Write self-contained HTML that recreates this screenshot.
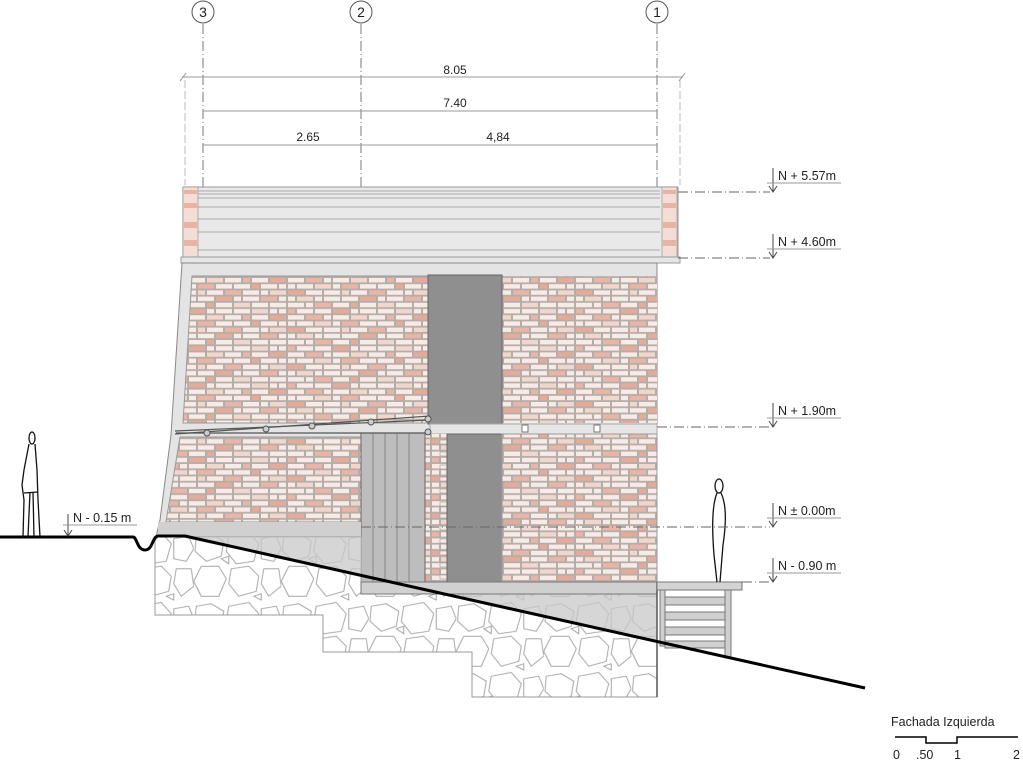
<!DOCTYPE html>
<html><head><meta charset="utf-8"><style>html,body{margin:0;padding:0;background:#fff}svg{display:block}text{font-family:"Liberation Sans",sans-serif;fill:#222}</style></head>
<body>
<svg width="1023" height="763" viewBox="0 0 1023 763" xmlns="http://www.w3.org/2000/svg">
<defs>
<pattern id="brick" x="0" y="277" width="144" height="37.2" patternUnits="userSpaceOnUse">
<rect width="144" height="37.2" fill="#b5adaa"/>
<g fill="#f8ebe5">
<rect x="0" y="1" width="16" height="4.4"/><rect x="18" y="1" width="16" height="4.4" fill="#e8b5a6"/><rect x="36" y="1" width="7" height="4.4"/><rect x="45" y="1" width="16" height="4.4"/><rect x="63" y="1" width="16" height="4.4" fill="#f1d6cc"/><rect x="81" y="1" width="16" height="4.4"/><rect x="99" y="1" width="7" height="4.4" fill="#e8b5a6"/><rect x="108" y="1" width="16" height="4.4"/><rect x="126" y="1" width="16" height="4.4" fill="#e4ab9b"/>
<rect x="0" y="7.2" width="7" height="4.4"/><rect x="9" y="7.2" width="16" height="4.4"/><rect x="27" y="7.2" width="16" height="4.4" fill="#f1d6cc"/><rect x="45" y="7.2" width="7" height="4.4"/><rect x="54" y="7.2" width="16" height="4.4" fill="#e8b5a6"/><rect x="72" y="7.2" width="16" height="4.4"/><rect x="90" y="7.2" width="16" height="4.4"/><rect x="108" y="7.2" width="7" height="4.4" fill="#e4ab9b"/><rect x="117" y="7.2" width="16" height="4.4"/><rect x="135" y="7.2" width="7" height="4.4"/>
<rect x="0" y="13.4" width="16" height="4.4" fill="#e4ab9b"/><rect x="18" y="13.4" width="16" height="4.4"/><rect x="36" y="13.4" width="16" height="4.4"/><rect x="54" y="13.4" width="7" height="4.4" fill="#f1d6cc"/><rect x="63" y="13.4" width="16" height="4.4"/><rect x="81" y="13.4" width="16" height="4.4" fill="#e8b5a6"/><rect x="99" y="13.4" width="16" height="4.4"/><rect x="117" y="13.4" width="7" height="4.4"/><rect x="126" y="13.4" width="16" height="4.4" fill="#f1d6cc"/>
<rect x="0" y="19.6" width="7" height="4.4"/><rect x="9" y="19.6" width="16" height="4.4" fill="#f1d6cc"/><rect x="27" y="19.6" width="7" height="4.4"/><rect x="36" y="19.6" width="16" height="4.4"/><rect x="54" y="19.6" width="16" height="4.4"/><rect x="72" y="19.6" width="16" height="4.4" fill="#e4ab9b"/><rect x="90" y="19.6" width="7" height="4.4"/><rect x="99" y="19.6" width="16" height="4.4"/><rect x="117" y="19.6" width="16" height="4.4" fill="#e8b5a6"/><rect x="135" y="19.6" width="7" height="4.4"/>
<rect x="0" y="25.8" width="16" height="4.4"/><rect x="18" y="25.8" width="7" height="4.4"/><rect x="27" y="25.8" width="16" height="4.4" fill="#e8b5a6"/><rect x="45" y="25.8" width="16" height="4.4"/><rect x="63" y="25.8" width="7" height="4.4" fill="#e4ab9b"/><rect x="72" y="25.8" width="16" height="4.4"/><rect x="90" y="25.8" width="16" height="4.4" fill="#f1d6cc"/><rect x="108" y="25.8" width="16" height="4.4"/><rect x="126" y="25.8" width="16" height="4.4"/>
<rect x="0" y="32" width="7" height="4.4" fill="#e8b5a6"/><rect x="9" y="32" width="16" height="4.4"/><rect x="27" y="32" width="16" height="4.4"/><rect x="45" y="32" width="16" height="4.4" fill="#e4ab9b"/><rect x="63" y="32" width="7" height="4.4"/><rect x="72" y="32" width="16" height="4.4"/><rect x="90" y="32" width="16" height="4.4"/><rect x="108" y="32" width="16" height="4.4" fill="#f1d6cc"/><rect x="126" y="32" width="7" height="4.4"/><rect x="135" y="32" width="7" height="4.4"/>
</g>
</pattern>
<pattern id="stone" x="155" y="537" width="70" height="56" patternUnits="userSpaceOnUse" patternTransform="scale(1.25)">
<g fill="none" stroke="#9a9a9a" stroke-width="0.7">
<path d="M2,4 L14,2 L24,8 L22,20 L10,24 L1,16 Z"/>
<path d="M28,4 L44,1 L52,10 L48,24 L34,26 L26,16 Z"/>
<path d="M54,6 L66,4 L70,14 L64,24 L54,22 Z"/>
<path d="M6,28 L20,28 L26,38 L20,52 L6,52 L0,40 Z"/>
<path d="M30,30 L44,28 L52,36 L50,48 L36,52 L28,42 Z"/>
<path d="M56,30 L68,30 L70,44 L60,52 L54,42 Z"/>
<path d="M22,22 L28,20 L28,26 Z"/>
<path d="M48,52 L54,50 L54,55 Z"/>
</g>
</pattern>
</defs>

<g stroke="#777" stroke-width="1" stroke-dasharray="10,3,1,3" fill="none">
<line x1="203" y1="24" x2="203" y2="540"/>
<line x1="361" y1="24" x2="361" y2="540"/>
<line x1="657" y1="24" x2="657" y2="582"/>
</g>
<g stroke="#bbb" stroke-width="1" stroke-dasharray="8,3" fill="none">
<line x1="185" y1="80" x2="185" y2="185"/>
<line x1="680" y1="80" x2="680" y2="185"/>
</g>
<g fill="#fff" stroke="#555" stroke-width="1">
<circle cx="203" cy="12" r="11"/><circle cx="361" cy="12" r="11"/><circle cx="657" cy="12" r="11"/>
</g>
<g font-size="14" text-anchor="middle">
<text x="203" y="17">3</text><text x="361" y="17">2</text><text x="657" y="17">1</text>
</g>
<g stroke="#999" stroke-width="1">
<line x1="182" y1="77" x2="683" y2="77"/>
<line x1="180" y1="81" x2="186" y2="73"/><line x1="679" y1="81" x2="685" y2="73"/>
<line x1="203" y1="111" x2="657" y2="111"/>
<line x1="203" y1="145" x2="657" y2="145"/>
</g>
<g font-size="12" text-anchor="middle">
<text x="455" y="74">8.05</text>
<text x="455" y="107">7.40</text>
<text x="308" y="141">2.65</text>
<text x="498" y="141">4,84</text>
</g>

<rect x="183" y="187" width="495" height="70" fill="#e9e9e9" stroke="#999"/>
<g stroke="#aaa" stroke-width="1">
<line x1="198" y1="191" x2="660" y2="191"/><line x1="198" y1="194" x2="660" y2="194"/>
<line x1="198" y1="198" x2="660" y2="198"/><line x1="198" y1="207" x2="660" y2="207"/>
<line x1="198" y1="219" x2="660" y2="219"/><line x1="198" y1="232" x2="660" y2="232"/>
<line x1="198" y1="250" x2="660" y2="250"/>
</g>
<g stroke="#aaa" stroke-width="0.6">
<rect x="183" y="187" width="15" height="70" fill="#f3ddd4" stroke="#888"/>
<rect x="662" y="187" width="15" height="70" fill="#f3ddd4" stroke="#888"/>
</g>
<g fill="#e6b3a4">
<rect x="184" y="190" width="13" height="4"/><rect x="184" y="203" width="13" height="5"/><rect x="184" y="222" width="13" height="6"/><rect x="184" y="240" width="13" height="6"/>
<rect x="663" y="190" width="13" height="4"/><rect x="663" y="203" width="13" height="5"/><rect x="663" y="222" width="13" height="6"/><rect x="663" y="240" width="13" height="6"/>
</g>
<rect x="181" y="257" width="499" height="6" fill="#e6e6e6" stroke="#999"/>

<path d="M182,263 L657,263 L657,537 L156,537 L160,520 L171,435 Z" fill="#e4e4e4" stroke="#888"/>
<path d="M192,276 L428,276 L428,423 L183,423 Z" fill="url(#brick)" stroke="#999"/>
<rect x="502" y="276" width="155" height="147" fill="url(#brick)"/>
<rect x="428" y="275" width="74" height="149" fill="#8f8f8f" stroke="#666"/>
<rect x="430" y="424" width="227" height="10" fill="#e6e6e6" stroke="#aaa"/>
<rect x="522" y="425" width="6" height="7" fill="#fff" stroke="#777"/>
<rect x="594" y="425" width="6" height="7" fill="#fff" stroke="#777"/>
<path d="M180,437 L361,437 L361,522 L166,522 Z" fill="url(#brick)" stroke="#999"/>
<rect x="425" y="434" width="24" height="148" fill="url(#brick)"/>
<g fill="#f8ebe5" stroke="#999" stroke-width="0.6">
<rect x="440" y="440" width="8" height="4"/><rect x="440" y="452" width="8" height="4"/><rect x="440" y="465" width="8" height="4"/><rect x="440" y="477" width="8" height="4"/><rect x="440" y="489" width="8" height="4"/><rect x="440" y="502" width="8" height="4"/><rect x="440" y="514" width="8" height="4"/><rect x="440" y="526" width="8" height="4"/><rect x="440" y="539" width="8" height="4"/><rect x="440" y="551" width="8" height="4"/><rect x="440" y="563" width="8" height="4"/><rect x="440" y="575" width="8" height="4"/>
</g>
<rect x="447" y="434" width="55" height="148" fill="#8f8f8f" stroke="#666"/>
<rect x="502" y="434" width="155" height="148" fill="url(#brick)" stroke="#999"/>
<rect x="361" y="433" width="64" height="149" fill="#bdbdbd" stroke="#666"/>
<g stroke="#888"><line x1="373" y1="433" x2="373" y2="582"/><line x1="385" y1="433" x2="385" y2="582"/><line x1="397" y1="433" x2="397" y2="582"/><line x1="409" y1="433" x2="409" y2="582"/></g>
<g stroke="#555" stroke-width="1.2" fill="none">
<line x1="175" y1="434" x2="430" y2="416"/>
<line x1="175" y1="431" x2="430" y2="420"/>
<line x1="176" y1="433" x2="430" y2="433"/>
</g>
<g fill="#ccc" stroke="#555"><circle cx="207" cy="433" r="3"/><circle cx="266" cy="429" r="3"/><circle cx="312" cy="426" r="3"/><circle cx="371" cy="422" r="3"/><circle cx="428" cy="419" r="3"/><circle cx="428" cy="432" r="3"/></g>

<rect x="158" y="522" width="203" height="15" fill="#d0d0d0"/>
<path d="M155,537 L361,537 L361,594 L657,594 L657,697 L472,697 L472,652 L323,652 L323,615 L155,615 Z" fill="#fff"/>
<path d="M155,537 L361,537 L361,594 L657,594 L657,697 L472,697 L472,652 L323,652 L323,615 L155,615 Z" fill="url(#stone)" stroke="#999"/>
<path d="M180,537 L361,537 L361,576 Z" fill="#c8c8c8" fill-opacity="0.75"/>
<path d="M449,594 L657,594 L657,642 Z" fill="#c8c8c8" fill-opacity="0.75"/>
<rect x="361" y="582" width="296" height="12" fill="#d0d0d0" stroke="#777"/>
<line x1="657" y1="582" x2="657" y2="697" stroke="#555" stroke-width="1.5"/>

<rect x="657" y="582" width="85" height="8" fill="#d3d3d3" stroke="#777"/>
<g fill="#cfcfcf" stroke="#777">
<rect x="665" y="597" width="60" height="8"/><rect x="665" y="612" width="60" height="8"/><rect x="665" y="627" width="60" height="8"/><rect x="665" y="641" width="60" height="7"/>
<rect x="660" y="590" width="5" height="56"/><rect x="725" y="590" width="6" height="68"/>
</g>

<path d="M0,537 L133,537 C137,537 137,550 145,550 C153,550 152,537 158,536 L185,536 L865,688" fill="none" stroke="#000" stroke-width="3"/>

<g fill="none" stroke="#111" stroke-width="1.3">
<ellipse cx="32" cy="438" rx="3" ry="6"/>
<path d="M29,444 L24,470 L22,485 L24,500 L23,537 M35,444 L37,470 L38,500 L40,537 M30,492 L28,537 M33,492 L34,537 M24,493 L38,492"/>
<ellipse cx="719" cy="486" rx="4" ry="7"/>
<path d="M717,493 C712,505 712,530 714,555 L717,582 M721,493 C727,505 726,525 723,545 L720,582"/>
</g>

<g stroke="#666" stroke-width="1" stroke-dasharray="10,3,1,3">
<line x1="678" y1="192" x2="770" y2="192"/>
<line x1="678" y1="258" x2="770" y2="258"/>
<line x1="657" y1="427" x2="770" y2="427"/>
<line x1="361" y1="527" x2="770" y2="527"/>
<line x1="742" y1="582" x2="770" y2="582"/>
</g>
<g stroke="#444" stroke-width="1" fill="none">
<path d="M773,168 L773,192 M769,186 L773,192 L777,186"/><line x1="767" y1="183" x2="841" y2="183" stroke="#999"/>
<path d="M773,234 L773,258 M769,252 L773,258 L777,252"/><line x1="767" y1="249" x2="841" y2="249" stroke="#999"/>
<path d="M773,403 L773,427 M769,421 L773,427 L777,421"/><line x1="767" y1="418" x2="841" y2="418" stroke="#999"/>
<path d="M773,503 L773,527 M769,521 L773,527 L777,521"/><line x1="767" y1="518" x2="841" y2="518" stroke="#999"/>
<path d="M773,558 L773,582 M769,576 L773,582 L777,576"/><line x1="767" y1="573" x2="841" y2="573" stroke="#999"/>
<path d="M68,514 L68,536 M64,530 L68,536 L72,530"/><line x1="63" y1="525" x2="137" y2="525" stroke="#999"/>
</g>
<g font-size="12.5">
<text x="778" y="180">N + 5.57m</text>
<text x="778" y="246">N + 4.60m</text>
<text x="778" y="415">N + 1.90m</text>
<text x="778" y="515">N ± 0.00m</text>
<text x="778" y="570">N - 0.90 m</text>
<text x="73" y="522">N - 0.15 m</text>
<text x="891" y="726">Fachada Izquierda</text>
</g>
<path d="M895,737 L926,737 L926,743 L957,743 L957,737 L1018,737" fill="none" stroke="#000" stroke-width="1.5"/>
<g font-size="12.5">
<text x="893" y="759">0</text><text x="916" y="759">.50</text><text x="954" y="759">1</text><text x="1013" y="759">2</text>
</g>
</svg>
</body></html>
